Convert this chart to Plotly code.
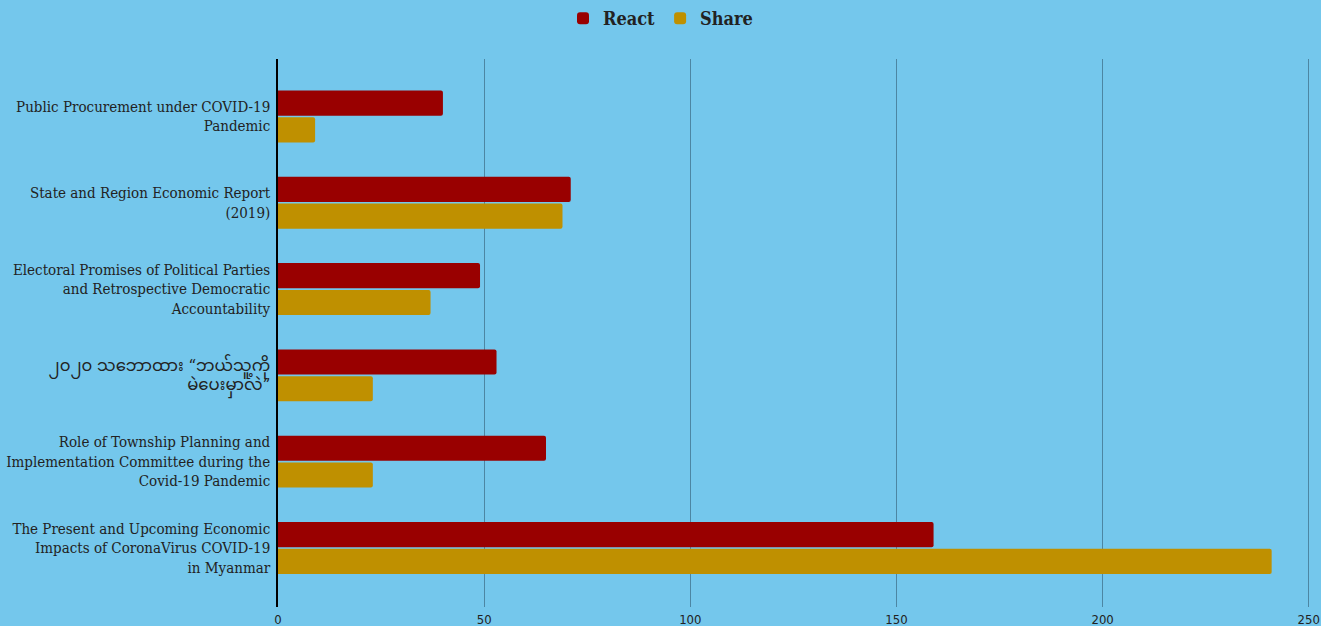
import plotly.graph_objects as go

categories = [
    "Public Procurement under COVID-19<br>Pandemic",
    "State and Region Economic Report<br>(2019)",
    "Electoral Promises of Political Parties<br>and Retrospective Democratic<br>Accountability",
    "၂၀၂၀ သဘောထား “ဘယ်သူ့ကို<br>မဲပေးမှာလဲ”",
    "Role of Township Planning and<br>Implementation Committee during the<br>Covid-19 Pandemic",
    "The Present and Upcoming Economic<br>Impacts of CoronaVirus COVID-19<br>in Myanmar",
]
react = [40, 71, 49, 53, 65, 159]
share = [9, 69, 37, 23, 23, 241]
tick_vals = [0, 50, 100, 150, 200, 250]

BG = "#74C7EC"
SERIF = "DejaVu Serif Condensed, DejaVu Serif, Noto Sans Myanmar, Noto Sans"


def tick_label(text):
    # Myanmar script renders a bit larger in the reference
    if any("\u1000" <= ch <= "\u109f" for ch in text):
        return "<span style='font-size:16.5px'>" + text + "</span>"
    return text


fig = go.Figure()
fig.add_trace(go.Bar(name="React", y=categories, x=react, orientation="h",
                     marker=dict(color="#990000", cornerradius=2, line=dict(width=0))))
fig.add_trace(go.Bar(name="Share", y=categories, x=share, orientation="h",
                     marker=dict(color="#BF9000", cornerradius=2, line=dict(width=0))))

fig.update_layout(
    width=1321, height=626,
    paper_bgcolor=BG, plot_bgcolor=BG,
    margin=dict(l=278, r=11, t=59, b=19, autoexpand=False),
    barmode="group", bargap=0.38, bargroupgap=0.06,
    legend=dict(orientation="h", x=0.5, xref="container", xanchor="center",
                y=1.0, yref="container", yanchor="top",
                font=dict(family=SERIF, size=18, color="#222222", weight="bold"),
                traceorder="normal"),
    font=dict(family=SERIF, size=15, color="#222222"),
)
fig.update_xaxes(range=[0, 250.3], tickvals=tick_vals, automargin=False,
                 showgrid=True, gridcolor="rgba(50,90,115,0.6)", gridwidth=1,
                 zeroline=False, showline=False, ticklabeloverflow="allow",
                 tickfont=dict(family="DejaVu Sans Condensed, DejaVu Sans", size=13, color="#222222"),
                 ticks="", ticklabelstandoff=3)
fig.update_yaxes(range=[5.684, -0.666], showgrid=False, zeroline=False, automargin=False,
                 showline=True, linecolor="black", linewidth=1.5,
                 ticks="", ticklabelstandoff=3,
                 tickmode="array", tickvals=categories,
                 ticktext=[tick_label(c) for c in categories],
                 tickfont=dict(family=SERIF, size=15, color="#222222"))

fig.write_html("out.html")
